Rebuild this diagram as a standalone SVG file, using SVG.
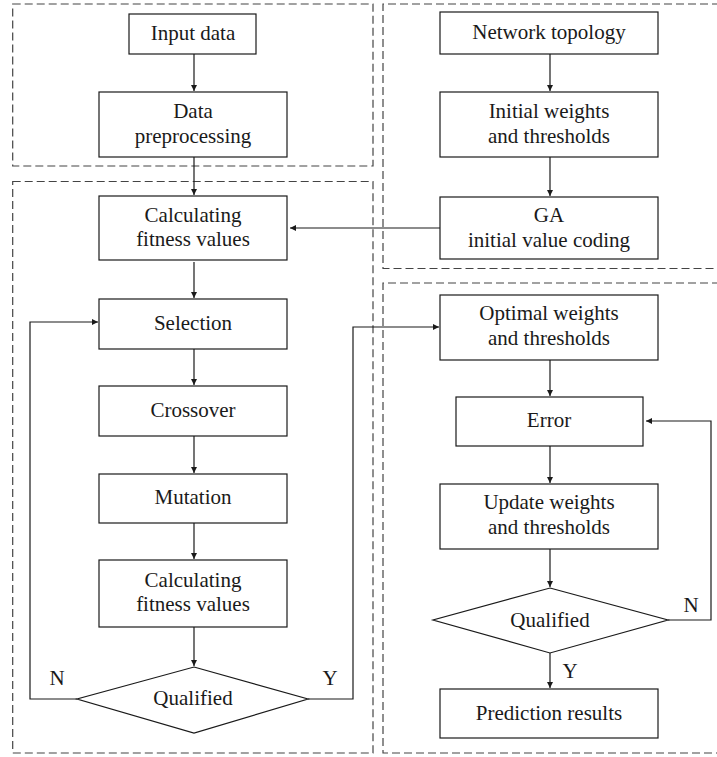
<svg xmlns="http://www.w3.org/2000/svg" width="717" height="757" viewBox="0 0 717 757">
<defs>
<marker id="ah" viewBox="0 0 10 10" refX="10" refY="5" markerWidth="8" markerHeight="6" markerUnits="userSpaceOnUse" orient="auto">
<path d="M0,0 L10,5 L0,10 z" fill="#1a1a1a"/>
</marker>
</defs>
<style>
.grp{fill:none;stroke:#444;stroke-width:1.2;stroke-dasharray:8 4}
.box{fill:#fff;stroke:#1a1a1a;stroke-width:1.2}
text{font-family:'Liberation Serif','Tinos','Times New Roman','DejaVu Serif',serif;font-size:21px;fill:#1a1a1a;text-anchor:middle}
.c{fill:none;stroke:#1a1a1a;stroke-width:1.2;marker-end:url(#ah)}
</style>
<rect width="717" height="757" fill="#fff"/>
<g id="groups">
<rect class="grp" x="12.7" y="4" width="360.3" height="162"/>
<rect class="grp" x="12.7" y="181.5" width="360.3" height="571.5"/>
<path class="grp" d="M720,4 H383 V268.5 H720"/>
<path class="grp" d="M720,283 H383 V753 H720"/>
</g>
<g id="connectors">
<line class="c" x1="194" y1="54" x2="194" y2="91"/>
<line class="c" x1="194" y1="157" x2="194" y2="195"/>
<line class="c" x1="194" y1="262" x2="194" y2="298"/>
<line class="c" x1="194" y1="349" x2="194" y2="385"/>
<line class="c" x1="194" y1="436" x2="194" y2="473"/>
<line class="c" x1="194" y1="523" x2="194" y2="559"/>
<line class="c" x1="194" y1="627" x2="194" y2="666"/>
<polyline class="c" points="77,699 30,699 30,322 98,322"/>
<polyline class="c" points="308,699 353,699 353,327 439,327"/>
<line class="c" x1="440" y1="228" x2="290" y2="228"/>
<line class="c" x1="550" y1="54" x2="550" y2="91"/>
<line class="c" x1="550" y1="157" x2="550" y2="196"/>
<line class="c" x1="550" y1="360" x2="550" y2="396"/>
<line class="c" x1="550" y1="446" x2="550" y2="483"/>
<line class="c" x1="550" y1="549" x2="550" y2="587"/>
<line class="c" x1="550" y1="653" x2="550" y2="688"/>
<polyline class="c" points="668,620 711,620 711,421 646,421"/>
<text font-family="Liberation Serif, serif" x="57" y="685">N</text>
<text font-family="Liberation Serif, serif" x="330" y="685">Y</text>
<text font-family="Liberation Serif, serif" x="691" y="612">N</text>
<text font-family="Liberation Serif, serif" x="570" y="678">Y</text>
</g>
<g id="input-data"><rect class="box" x="129" y="14" width="127" height="40"/><text x="193" y="40">Input data</text></g>
<g id="data-preprocessing"><rect class="box" x="99" y="92" width="188" height="65"/><text x="193" y="118">Data</text><text x="193" y="143">preprocessing</text></g>
<g id="calc-fitness-1"><rect class="box" x="99" y="196" width="188" height="64"/><text x="193" y="222">Calculating</text><text x="193" y="246">fitness values</text></g>
<g id="selection"><rect class="box" x="99" y="299" width="188" height="50"/><text x="193" y="330">Selection</text></g>
<g id="crossover"><rect class="box" x="99" y="386" width="188" height="50"/><text x="193" y="417">Crossover</text></g>
<g id="mutation"><rect class="box" x="99" y="474" width="188" height="49"/><text x="193" y="504">Mutation</text></g>
<g id="calc-fitness-2"><rect class="box" x="99" y="560" width="188" height="67"/><text x="193" y="587">Calculating</text><text x="193" y="611">fitness values</text></g>
<g id="qualified-1"><polygon class="box" points="194,667 308,699 194,733 77,699"/><text x="193" y="705">Qualified</text></g>
<g id="network-topology"><rect class="box" x="440" y="12" width="218" height="42"/><text x="549" y="39">Network topology</text></g>
<g id="initial-weights"><rect class="box" x="440" y="92" width="218" height="65"/><text x="549" y="118">Initial weights</text><text x="549" y="143">and thresholds</text></g>
<g id="ga-coding"><rect class="box" x="440" y="197" width="218" height="62"/><text x="549" y="222">GA</text><text x="549" y="247">initial value coding</text></g>
<g id="optimal-weights"><rect class="box" x="440" y="295" width="218" height="65"/><text x="549" y="320">Optimal weights</text><text x="549" y="345">and thresholds</text></g>
<g id="error"><rect class="box" x="456" y="397" width="187" height="49"/><text x="549" y="427">Error</text></g>
<g id="update-weights"><rect class="box" x="440" y="484" width="218" height="65"/><text x="549" y="509">Update weights</text><text x="549" y="534">and thresholds</text></g>
<g id="qualified-2"><polygon class="box" points="550,588 668,620 550,653 433,620"/><text x="550" y="627">Qualified</text></g>
<g id="prediction-results"><rect class="box" x="440" y="689" width="218" height="49"/><text x="549" y="720">Prediction results</text></g>
</svg>
